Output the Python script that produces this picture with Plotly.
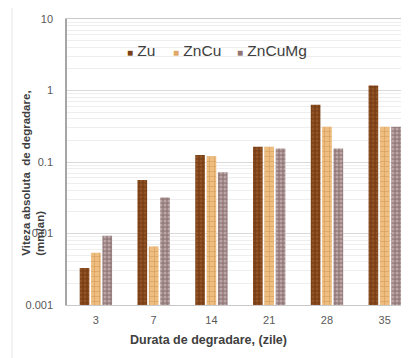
import plotly.graph_objects as go

categories = ["3", "7", "14", "21", "28", "35"]
zu = [0.0033, 0.056, 0.125, 0.163, 0.63, 1.17]
zncu = [0.0054, 0.0066, 0.12, 0.163, 0.31, 0.31]
zncumg = [0.0093, 0.032, 0.072, 0.155, 0.155, 0.31]
series_names = ["Zu", "ZnCu", "ZnCuMg"]
y_ticks = [0.001, 0.01, 0.1, 1, 10]
y_tick_labels = ["0.001", "0.01", "0.1", "1", "10"]

styles = [
    dict(color="#7b3f16", pattern=dict(shape=".", fgcolor="#a86a38", bgcolor="#7b3f16", size=4, solidity=0.4)),
    dict(color="#e6b070", pattern=dict(shape="+", fgcolor="#c0813f", bgcolor="#eebd80", size=5, solidity=0.25)),
    dict(color="#9c8282", pattern=dict(shape=".", fgcolor="#e0d2d2", bgcolor="#957a7a", size=4, solidity=0.45)),
]
legend_swatch = ["#7b3f16", "#e0a868", "#8f7474"]
legend_x = [0.170, 0.304, 0.490]

fig = go.Figure()
for name, vals, st in zip(series_names, [zu, zncu, zncumg], styles):
    fig.add_trace(go.Bar(
        x=categories, y=vals, name=name,
        marker=dict(color=st["color"], pattern=st["pattern"], line=dict(width=0)),
    ))

annotations = [
    dict(text="<b>Viteza absoluta  de degradare,<br>(mm/an)</b>", textangle=-90,
         xref="paper", yref="paper", x=-0.099, y=0.164, xanchor="center", yanchor="bottom",
         align="left", showarrow=False, font=dict(size=11.5, color="#404040")),
    dict(text="<b>Durata de degradare, (zile)</b>", xref="paper", yref="paper",
         x=0.414, y=-0.122, xanchor="center", yanchor="middle", showarrow=False,
         font=dict(size=12.5, color="#404040")),
]
for name, col, lx in zip(series_names, legend_swatch, legend_x):
    annotations.append(dict(
        text='<span style="font-size:10px;color:%s">■</span> %s' % (col, name),
        xref="paper", yref="paper", x=lx, y=0.89, xanchor="left", yanchor="middle",
        showarrow=False, font=dict(size=15.5, color="#404040")))

fig.update_layout(
    width=401, height=350,
    margin=dict(l=59, r=0, t=11, b=53, autoexpand=False),
    paper_bgcolor="white", plot_bgcolor="white",
    barmode="group", bargap=0.41, bargroupgap=0.15,
    font=dict(family="Liberation Sans, Arial, sans-serif", color="#595959"),
    showlegend=False,
    xaxis=dict(type="category", range=[-0.5, 5.42], showgrid=False, automargin=False,
               showline=True, linecolor="#c8c8c8", linewidth=1, mirror=True,
               ticks="", ticklabelstandoff=5, tickfont=dict(size=11, color="#595959")),
    yaxis=dict(type="log", range=[-3, 1], tickvals=y_ticks, ticktext=y_tick_labels,
               automargin=False,
               showgrid=True, gridcolor="#d9d9d9", gridwidth=1,
               minor=dict(showgrid=True, gridcolor="#eeeeee", dtick="D1"),
               showline=True, linecolor="#a6a6a6", linewidth=1.5, zeroline=False,
               ticks="", ticklabelstandoff=10, tickfont=dict(size=11, color="#595959")),
    annotations=annotations,
    shapes=[
        dict(type="rect", xref="paper", yref="paper", x0=-0.161, x1=1.1, y0=-0.25, y1=1.05,
             line=dict(color="#e6e6e6", width=1), layer="below"),
    ],
)

fig.write_html("out.html")
